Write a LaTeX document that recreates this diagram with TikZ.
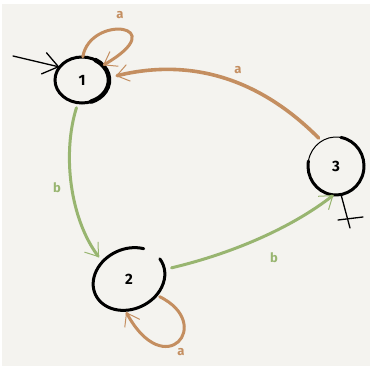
\documentclass[tikz,border=0pt]{standalone}
\usepackage{fontspec}
\setmainfont{Fira Sans}
\usetikzlibrary{arrows.meta,shapes.geometric}
\definecolor{paper}{RGB}{244,243,239}
\definecolor{brownarc}{RGB}{196,142,96}
\definecolor{greenarc}{RGB}{152,181,112}
\tikzset{
  statenode/.style={ellipse, inner sep=0pt, font=\bfseries\fontsize{15}{15}\selectfont},
  ring/.style={line width=3pt, black, line cap=round},
  thinring/.style={line width=1pt, black, line cap=round},
  barb/.style={-{Straight Barb[length=12pt,width=17pt,line width=1pt]}},
  brownedge/.style={barb, brownarc, line width=3pt, line cap=round},
  greenedge/.style={barb, greenarc, line width=3pt, line cap=round},
  lab/.style={font=\bfseries\fontsize{13}{13}\selectfont},
  marker/.style={black, line width=1.3pt, line cap=round}
}
\begin{document}
\begin{tikzpicture}[x=1pt,y=1pt]
\useasboundingbox (0,0) rectangle (372,369);
\fill[white] (0,0) rectangle (372,369);
\fill[paper] (2,3) rectangle (370,365);
% nodes
\node[statenode, minimum width=54pt, minimum height=46pt] (n1) at (82,289) {1};
\node[statenode, minimum width=72pt, minimum height=66pt] (n2) at (129,90) {2};
\node[statenode, minimum width=56pt, minimum height=58pt] (n3) at (336,203) {3};
% rings
\draw[ring] (82,289) ellipse [x radius=27pt, y radius=23pt];
\draw[line width=4.5pt, black, line cap=round] (82,289) ++(60:27pt and 23pt) arc[start angle=60, end angle=-70, x radius=27pt, y radius=23pt];
\draw[ring, rotate around={25:(129,90)}] (129,90) ++(45:37pt and 30pt) arc[start angle=45, end angle=370, x radius=37pt, y radius=30pt];
\draw[ring] (336,203) ++(80:28pt and 29pt) arc[start angle=80, end angle=-190, x radius=28pt, y radius=29pt];
\draw[thinring] (336,203) ++(170:28pt and 29pt) arc[start angle=170, end angle=82, x radius=28pt, y radius=29pt];
% start arrow
\coordinate (s) at (13,313);
\draw[marker, -{Straight Barb[length=15pt,width=22pt,line width=1.3pt]}] (s) -- (n1.150);
% final marker
\coordinate (f) at (350,141);
\coordinate (c1) at (338,149);
\coordinate (c2) at (363,152);
\draw[marker] (n3.-80) -- (f);
\draw[marker] (c1) -- (c2);
% edges
\draw[brownedge] (n1.88) .. controls (90,355) and (175,345) .. (n1.35);
\draw[brownedge, line width=3.6pt, shorten <=4pt, shorten >=7pt] (n3.120) .. controls (255,295) and (185,310) .. (n1.5);
\draw[greenedge, shorten <=5pt, shorten >=2pt] (n1.-100) .. controls (62,215) and (70,150) .. (n2.145);
\draw[greenedge, shorten <=8pt] (n2.15) .. controls (230,115) and (290,140) .. (n3.-95);
\draw[brownedge] (n2.-30) .. controls (215,45) and (165,-15) .. (n2.-95);
% labels
\node[lab, brownarc] (la1) at (120,354) {a};
\node[lab, brownarc] (la2) at (238,299) {a};
\node[lab, brownarc] (la3) at (181,17) {a};
\node[lab, greenarc] (lb1) at (57,181) {b};
\node[lab, greenarc] (lb2) at (274,111) {b};
\end{tikzpicture}
\end{document}
